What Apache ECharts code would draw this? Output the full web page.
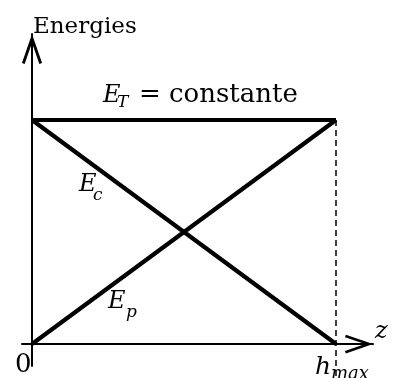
<!DOCTYPE html>
<html>
<head>
<meta charset="utf-8">
<script src="https://cdn.jsdelivr.net/npm/echarts@6/dist/echarts.min.js"></script>
<style>html,body{margin:0;padding:0;background:#fff;}#c{width:396px;height:378px;}</style>
</head>
<body>
<div id="c"></div>
<script>
// Data (normalised: z in units of h_max, energies in units of E_T)
var zValues = [0, 1];            // z = 0 ... h_max
var ET = [1, 1];                 // total energy, constant
var Ec = [1, 0];                 // kinetic energy
var Ep = [0, 1];                 // potential energy
var guideZ = 1;                  // dashed line at h_max
var guideY = [1, -0.152];        // from E_T down through the h_max label
var xRange = [-0.0329, 1.1217];
var yRange = [-0.098, 1.384];
var axisTitles = { y: 'Energies', x: 'z' };
var tickTexts = { origin: '0', hmax: 'h', hmaxSub: 'max' };
var curveTexts = { ET: 'E', ETsub: 'T', ETrest: '= constante', Ec: 'E', EcSub: 'c', Ep: 'E', EpSub: 'p' };

function pairs(xs, ys) { return xs.map(function (x, i) { return [x, ys[i]]; }); }

var chart = echarts.init(document.getElementById('c'), null, { renderer: 'canvas' });
var arrowPath = 'path://M0,29 L10,0 L20,29 L17.35,29.91 L10,8.6 L2.65,29.91 Z';
var up = 'DejaVu Serif';
function txt(t, x, y, size, italic) {
  return { type: 'text', silent: true, style: { text: t, x: x, y: y, fill: '#000',
    font: (italic ? 'italic ' : '') + size + 'px "' + up + '"', textAlign: 'left', textVerticalAlign: 'middle' } };
}
var option = {
  animation: false,
  grid: { left: 22, right: 23, top: 34, bottom: 12 },
  xAxis: { type: 'value', min: xRange[0], max: xRange[1],
    axisLine: { show: true, onZero: true, lineStyle: { color: '#000', width: 2 },
      symbol: ['none', arrowPath], symbolSize: [22, 28], symbolOffset: [0, -14] },
    axisTick: { show: false }, axisLabel: { show: false }, splitLine: { show: false } },
  yAxis: { type: 'value', min: yRange[0], max: yRange[1],
    axisLine: { show: true, onZero: true, lineStyle: { color: '#000', width: 2 },
      symbol: ['none', arrowPath], symbolSize: [21, 30], symbolOffset: [0, -15] },
    axisTick: { show: false }, axisLabel: { show: false }, splitLine: { show: false } },
  series: [
    { type: 'line', name: 'guide', data: [[guideZ, guideY[0]], [guideZ, guideY[1]]], clip: false,
      symbol: 'none', lineStyle: { color: '#000', width: 1.5, type: [6, 4] }, z: 1 },
    { type: 'line', name: 'E_T', data: pairs(zValues, ET), symbol: 'none', lineStyle: { color: '#000', width: 4.2 }, z: 3 },
    { type: 'line', name: 'E_c', data: pairs(zValues, Ec), symbol: 'none', lineStyle: { color: '#000', width: 4.2 }, z: 3 },
    { type: 'line', name: 'E_p', data: pairs(zValues, Ep), symbol: 'none', lineStyle: { color: '#000', width: 4.2 }, z: 3 }
  ],
  graphic: [
    txt(axisTitles.y, 33, 27.5, 23, false),
    txt(axisTitles.x, 375, 332, 24, true),
    txt(tickTexts.origin, 15, 365, 26, false),
    txt(tickTexts.hmax, 315, 367, 25, true),
    txt(tickTexts.hmaxSub, 331, 374.5, 18, true),
    txt(curveTexts.ET, 103, 96, 24, true),
    txt(curveTexts.ETsub, 117, 102.5, 17, true),
    txt(curveTexts.ETrest, 139, 95.5, 26, false),
    txt(curveTexts.Ec, 79, 185, 24, true),
    txt(curveTexts.EcSub, 93, 195.5, 17, true),
    txt(curveTexts.Ep, 108, 302, 24, true),
    txt(curveTexts.EpSub, 126, 313, 17, true)
  ]
};
chart.setOption(option);
</script>
</body>
</html>
